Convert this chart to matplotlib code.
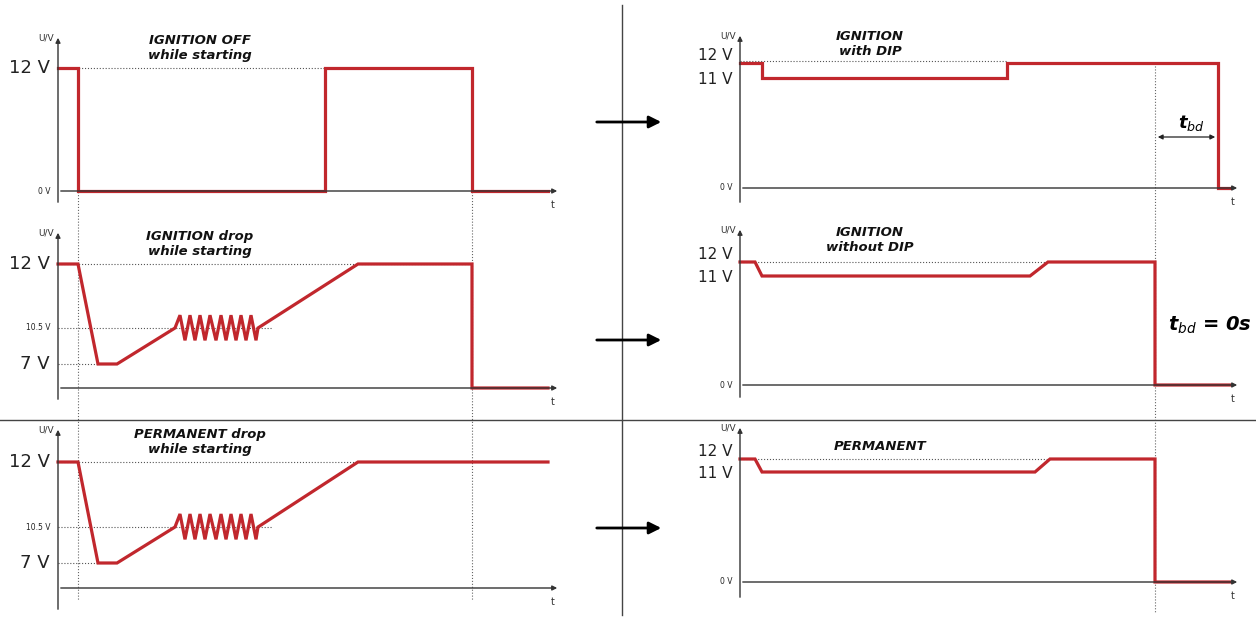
import numpy as np
import matplotlib
matplotlib.use("Agg")
import matplotlib.pyplot as plt

W, H = 1256, 623
RED = "#c1272d"

# waveforms: time (px-like units along the axis) and voltage
off_t = [58, 78, 78, 325, 325, 472, 472, 548]
off_v = [12, 12, 0, 0, 12, 12, 0, 0]

zig_t = [175, 180, 185, 190, 195, 200, 205, 210, 216, 221, 226, 231, 236, 241, 246, 251, 256, 258]
zig_v = [10.5, 10.8, 9.3, 10.8, 9.3, 10.8, 9.3, 10.8, 9.3, 10.8, 9.3, 10.8, 9.3, 10.8, 9.3, 10.8, 9.3, 10.5]
drop_t = [58, 78, 98, 117] + zig_t + [358, 472, 472, 548]
drop_v = [12, 12, 7, 7] + zig_v + [12, 12, 0, 0]
perm_t = [58, 78, 98, 117] + zig_t + [358, 548]
perm_v = [12, 12, 7, 7] + zig_v + [12, 12]

dip_t = [740, 762, 762, 1007, 1007, 1218, 1218, 1230]
dip_v = [12, 12, 11, 11, 12, 12, 0, 0]
nodip_t = [740, 755, 762, 1030, 1048, 1155, 1155, 1230]
nodip_v = [12, 12, 11, 11, 12, 12, 0, 0]
permr_t = [740, 755, 762, 1035, 1050, 1155, 1155, 1230]
permr_v = [12, 12, 11, 11, 12, 12, 0, 0]

fig = plt.figure(figsize=(W / 100, H / 100), dpi=100)
over = fig.add_axes([0, 0, 1, 1])
over.set_xlim(0, W)
over.set_ylim(H, 0)
over.axis("off")


def panel(box, levels, ticks, t, v, title, tpos, dotted):
    x0, x1, yt, yb = box
    vs = np.array([-100] + [l[0] for l in levels] + [100.0])
    ps = [l[1] for l in levels]
    k = (ps[-1] - ps[0]) / (levels[-1][0] - levels[0][0])
    ps = np.array([ps[0] + k * (-100 - levels[0][0])] + ps + [ps[-1] + k * (100 - levels[-1][0])])
    fwd = lambda y: -np.interp(y, vs, ps)
    inv = lambda y: np.interp(y, -ps, vs)
    ax = fig.add_axes([x0 / W, 1 - yb / H, (x1 - x0) / W, (yb - yt) / H])
    ax.set_yscale("function", functions=(fwd, inv))
    ax.set_xlim(x0, x1)
    ax.set_ylim(inv(-yb), inv(-yt))
    ax.axis("off")
    ax0 = t[0]
    base = levels[0][0]
    ax.annotate("", xy=(ax0, inv(-(yt + 5))), xytext=(ax0, inv(-(yb))),
                arrowprops=dict(arrowstyle="-|>", color="#333", lw=1, mutation_scale=7))
    ax.annotate("", xy=(x1 - 5, base), xytext=(ax0, base),
                arrowprops=dict(arrowstyle="-|>", color="#333", lw=1, mutation_scale=7))
    for lab, val, fs, va in ticks:
        ax.text(ax0 - 8, val, lab, ha="right", va=va, fontsize=fs, color="#222")
    ax.text(ax0 - 4, inv(-(yt + 8)), "U/V", ha="right", va="center", fontsize=6.5, color="#333")
    ax.text(x1 - 12, inv(-(ps[1] + 14)), "t", ha="center", va="center", fontsize=7, color="#333")
    for (xa, xb, val) in dotted:
        ax.plot([xa, xb], [val, val], ls=":", color="#555", lw=0.8)
    ax.plot(t, v, color=RED, lw=2.3, solid_joinstyle="miter")
    ax.text(tpos[0], inv(-tpos[1]), title, ha="center", va="center", fontsize=9.5,
            fontweight="bold", fontstyle="italic", linespacing=1.2, color="#111")
    return ax


big, mid, small = 13, 11, 5.5
right_ticks = [("12 V", 12, mid, "bottom"), ("11 V", 11, mid, "center_baseline"),
               ("0 V", 0, small, "center")]
panel((30, 565, 30, 205), [(0, 191), (12, 68)],
      [("12 V", 12, big, "center"), ("0 V", 0, small, "center")],
      off_t, off_v, "IGNITION OFF\nwhile starting", (200, 48), [(58, 472, 12)])
panel((30, 565, 225, 402), [(0, 388), (7, 364), (10.5, 328), (12, 264)],
      [("12 V", 12, big, "center"), ("10.5 V", 10.5, small, "center"), ("7 V", 7, big, "center")],
      drop_t, drop_v, "IGNITION drop\nwhile starting", (200, 244),
      [(58, 472, 12), (58, 272, 10.5), (58, 98, 7)])
panel((30, 565, 422, 612), [(0, 588), (7, 563), (10.5, 527), (12, 462)],
      [("12 V", 12, big, "center"), ("10.5 V", 10.5, small, "center"), ("7 V", 7, big, "center")],
      perm_t, perm_v, "PERMANENT drop\nwhile starting", (200, 442),
      [(58, 358, 12), (58, 272, 10.5), (58, 98, 7)])
panel((700, 1245, 28, 205), [(0, 188), (11, 78), (12, 63)], right_ticks,
      dip_t, dip_v, "IGNITION\nwith DIP", (870, 44), [(740, 1007, 12.2)])
panel((700, 1245, 222, 400), [(0, 385), (11, 276), (12, 262)], right_ticks,
      nodip_t, nodip_v, "IGNITION\nwithout DIP", (870, 240), [(740, 1048, 12)])
panel((700, 1245, 420, 600), [(0, 582), (11, 472), (12, 459)], right_ticks,
      permr_t, permr_v, "PERMANENT", (880, 447), [(740, 1050, 12)])

# guides, dividers and arrows
for x in (78, 472):
    over.plot([x, x], [68, 600], ls=":", color="#666", lw=0.8)
over.plot([1155, 1155], [63, 612], ls=":", color="#666", lw=0.8)
over.plot([622, 622], [5, 615], color="#444", lw=1)
over.plot([0, W], [420, 420], color="#444", lw=1)
for y in (122, 340, 528):
    over.annotate("", xy=(664, y), xytext=(594, y),
                  arrowprops=dict(arrowstyle="-|>", color="black", lw=2, mutation_scale=18))
over.annotate("", xy=(1218, 137), xytext=(1155, 137),
              arrowprops=dict(arrowstyle="<|-|>", color="#222", lw=0.9, mutation_scale=7))
over.text(1178, 123, r"$\boldsymbol{t}_{bd}$", fontsize=13, ha="left", va="center")
over.text(1210, 325, r"$\boldsymbol{t}_{bd}$ = 0s", fontsize=14, ha="center", va="center",
          fontweight="bold", fontstyle="italic")

fig.savefig("out.png", dpi=100)
